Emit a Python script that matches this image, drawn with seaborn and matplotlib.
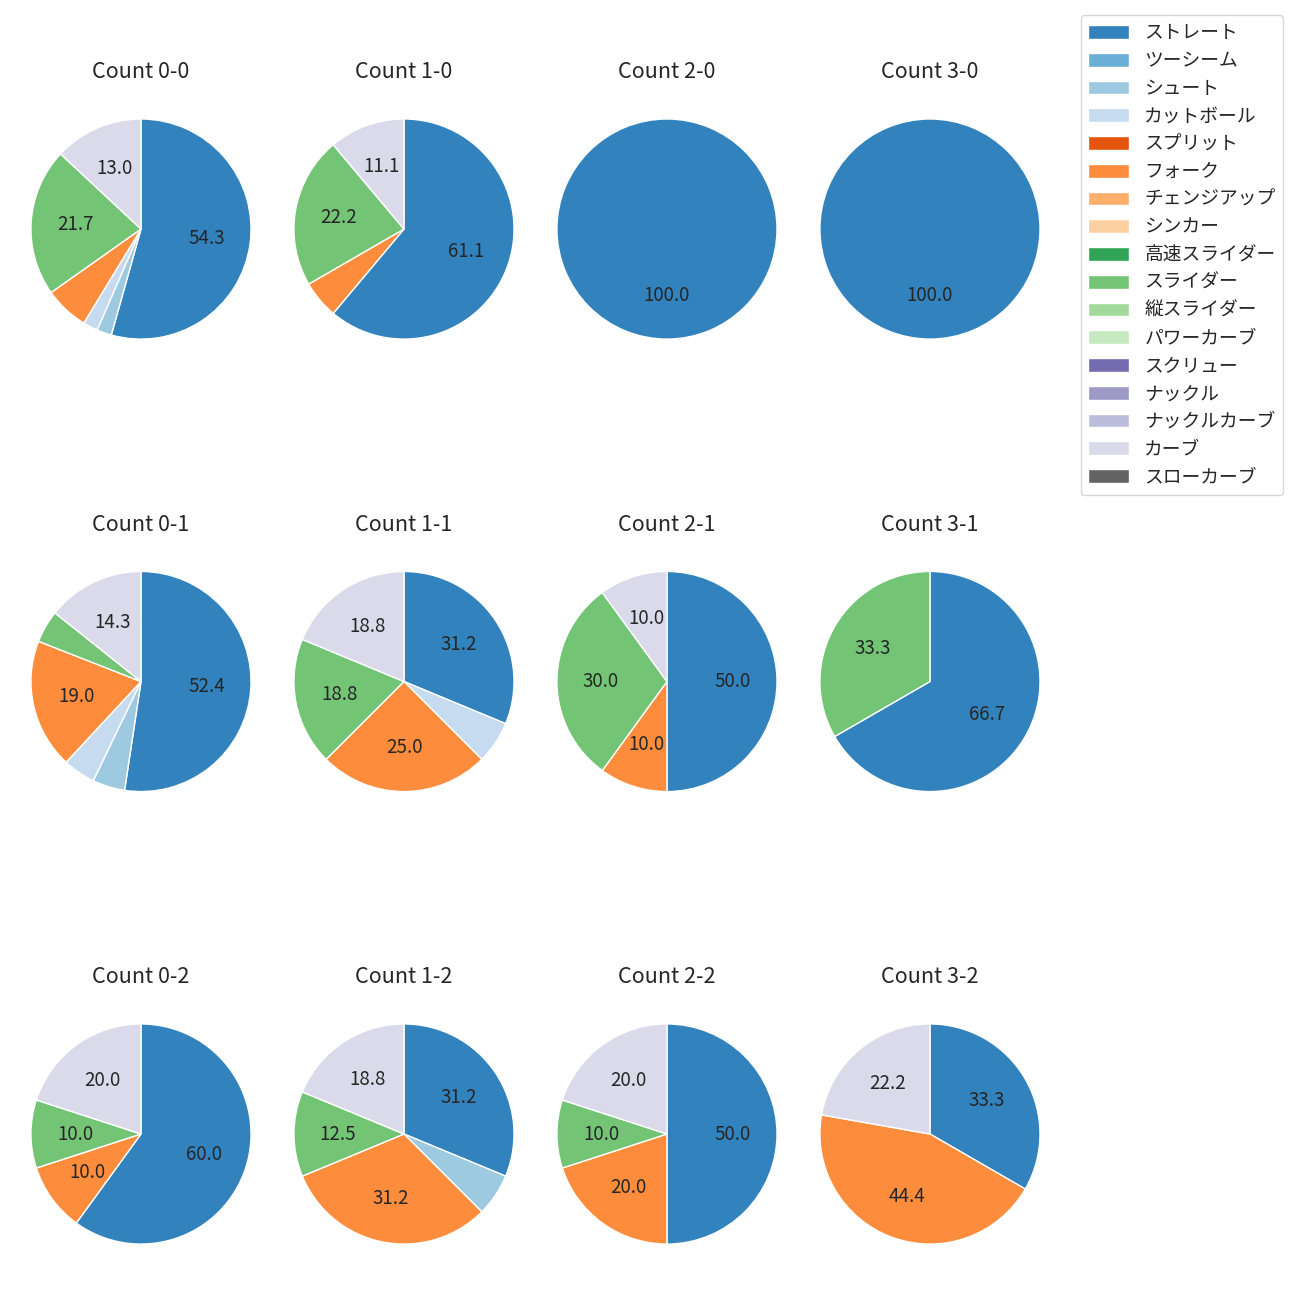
import matplotlib
matplotlib.use("Agg")
import matplotlib.pyplot as plt
import seaborn as sns
from matplotlib.patches import Patch

sns.set_style("white")
plt.rcParams['font.family'] = ['Noto Sans CJK JP', 'DejaVu Sans']

pitch_types = ["ストレート", "ツーシーム", "シュート", "カットボール", "スプリット", "フォーク",
               "チェンジアップ", "シンカー", "高速スライダー", "スライダー", "縦スライダー",
               "パワーカーブ", "スクリュー", "ナックル", "ナックルカーブ", "カーブ", "スローカーブ"]
palette = sns.color_palette("tab20c", 20)
colors = palette[:16] + [palette[16]]

counts = ["0-0", "1-0", "2-0", "3-0",
          "0-1", "1-1", "2-1", "3-1",
          "0-2", "1-2", "2-2", "3-2"]

# pitch counts per ball-strike count, in legend order
# [スト, ツー, シュ, カット, スプ, フォ, チェ, シン, 高ス, スラ, 縦ス, パワ, スク, ナッ, ナカ, カー, スロ]
values = {
    "0-0": [25, 0, 1, 1, 0, 3, 0, 0, 0, 10, 0, 0, 0, 0, 0, 6, 0],
    "1-0": [11, 0, 0, 0, 0, 1, 0, 0, 0, 4, 0, 0, 0, 0, 0, 2, 0],
    "2-0": [3, 0, 0, 0, 0, 0, 0, 0, 0, 0, 0, 0, 0, 0, 0, 0, 0],
    "3-0": [2, 0, 0, 0, 0, 0, 0, 0, 0, 0, 0, 0, 0, 0, 0, 0, 0],
    "0-1": [11, 0, 1, 1, 0, 4, 0, 0, 0, 1, 0, 0, 0, 0, 0, 3, 0],
    "1-1": [5, 0, 0, 1, 0, 4, 0, 0, 0, 3, 0, 0, 0, 0, 0, 3, 0],
    "2-1": [5, 0, 0, 0, 0, 1, 0, 0, 0, 3, 0, 0, 0, 0, 0, 1, 0],
    "3-1": [2, 0, 0, 0, 0, 0, 0, 0, 0, 1, 0, 0, 0, 0, 0, 0, 0],
    "0-2": [6, 0, 0, 0, 0, 1, 0, 0, 0, 1, 0, 0, 0, 0, 0, 2, 0],
    "1-2": [5, 0, 1, 0, 0, 5, 0, 0, 0, 2, 0, 0, 0, 0, 0, 3, 0],
    "2-2": [5, 0, 0, 0, 0, 2, 0, 0, 0, 1, 0, 0, 0, 0, 0, 2, 0],
    "3-2": [3, 0, 0, 0, 0, 4, 0, 0, 0, 0, 0, 0, 0, 0, 0, 2, 0],
}

fig, axes = plt.subplots(3, 4, figsize=(13, 13), dpi=100)
fig.subplots_adjust(left=0.0073, right=0.8165, top=0.9392, bottom=0.0123,
                    wspace=0.0, hspace=0.5083)

def fmt(p):
    return f"{p:.1f}" if p >= 9.9 else ""

for ax, c in zip(axes.flat, counts):
    v = values[c]
    vals = [x for x in v if x > 0]
    cols = [colors[i] for i, x in enumerate(v) if x > 0]
    ax.pie(vals, colors=cols, startangle=90, counterclock=False,
           autopct=fmt, pctdistance=0.6, textprops={'fontsize': 13.5})
    ax.set_xlim(-1.195, 1.195)
    ax.set_ylim(-1.195, 1.195)
    ax.set_aspect('equal')
    ax.set_title(f"Count {c}", fontsize=15.5, pad=14)

handles = [Patch(facecolor=colors[i], label=pitch_types[i]) for i in range(len(pitch_types))]
fig.legend(handles=handles, loc='upper right', bbox_to_anchor=(0.9942, 0.9957),
           fontsize=13.5, handlelength=2.2, handleheight=0.75, labelspacing=0.36,
           frameon=True)

fig.savefig("out.png", dpi=100)
